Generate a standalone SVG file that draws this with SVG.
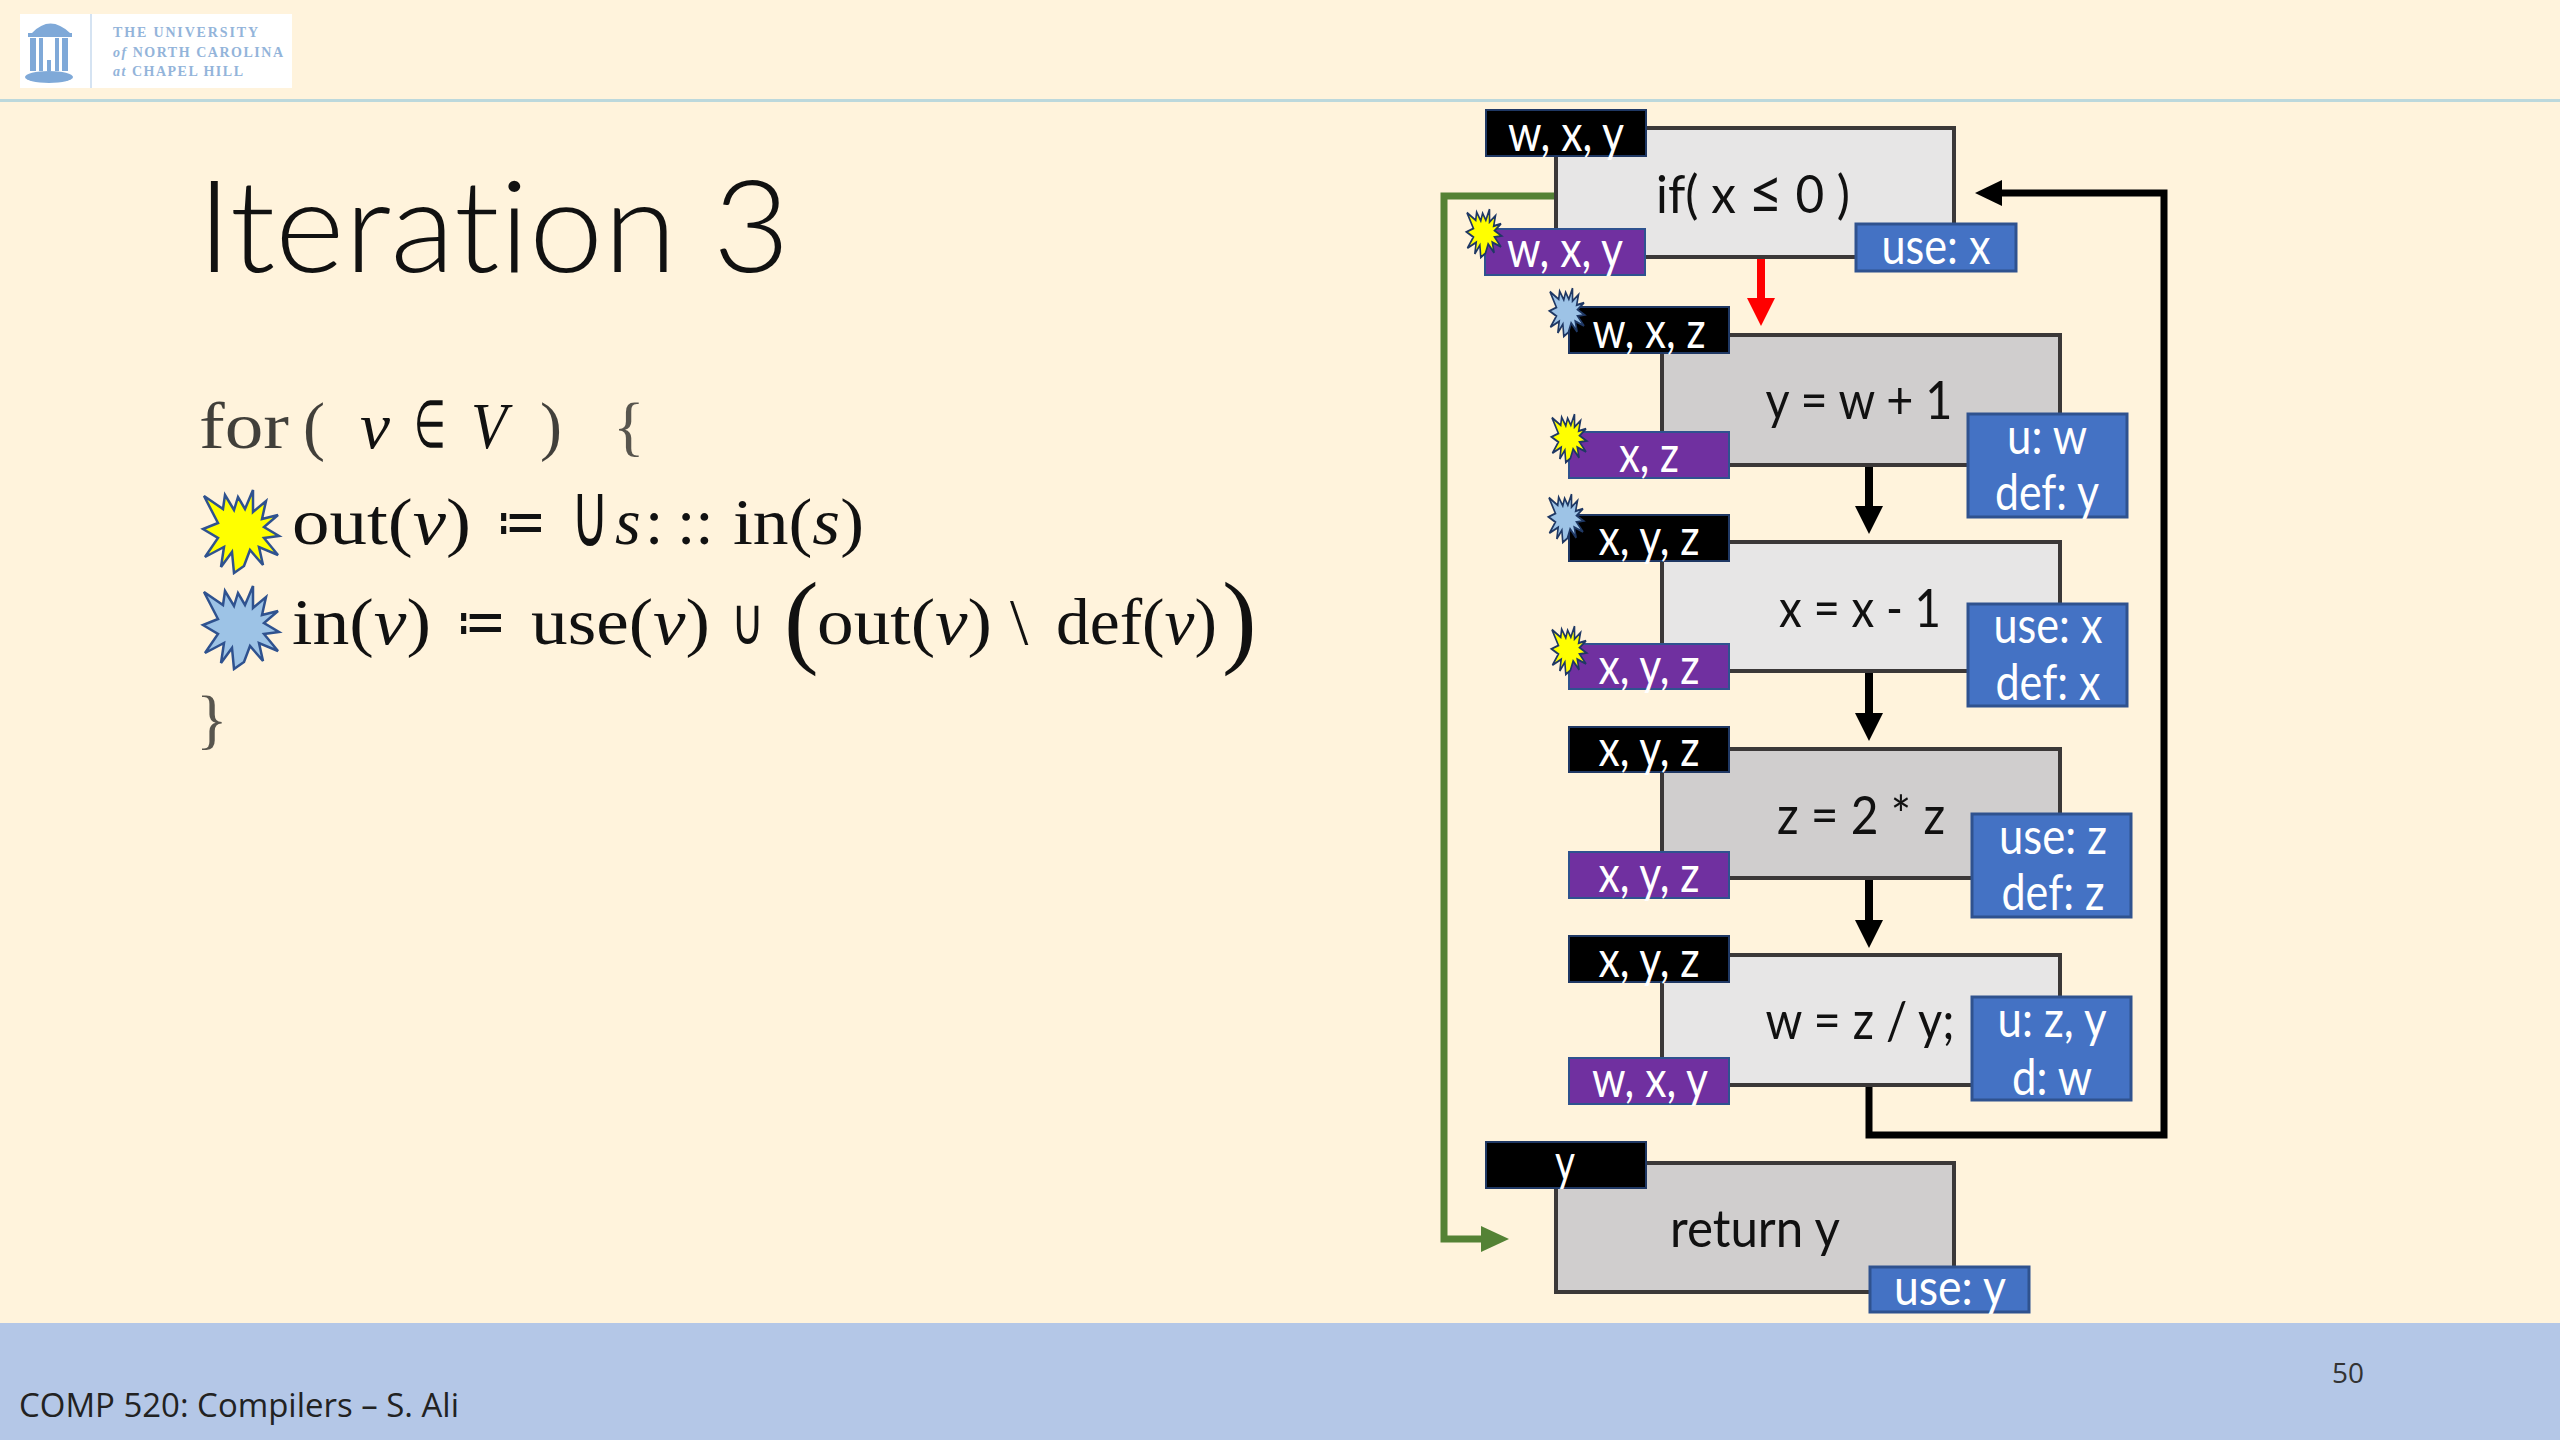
<svg xmlns="http://www.w3.org/2000/svg" width="2560" height="1440" viewBox="0 0 2560 1440">
<style>
.box{stroke:#3b3838;stroke-width:4}
.lt{fill:#e7e6e6}.dk{fill:#d0cece}
.in{fill:#000;stroke:#1f3864;stroke-width:2}
.out{fill:#7030a0;stroke:#2f528f;stroke-width:2}
.use{fill:#4472c4;stroke:#2f528f;stroke-width:3}
.lb{font-family:Lato,"Open Sans",sans-serif;font-size:50px;text-anchor:middle;font-variant-ligatures:none}
.w{fill:#fff;transform:translateY(2px)}.k{fill:#111;font-size:52px;transform:translateY(2px)}
.m{font-family:"Liberation Serif",serif;font-size:66px;fill:#111}
.big{font-size:104px}
.cup{font-size:90px}
.i{font-style:italic}
.logo{font-family:"Liberation Serif",serif;font-weight:bold;font-size:14px;fill:#93b4da}
.star{stroke:#2f528f;stroke-width:2.5;vector-effect:non-scaling-stroke;stroke-linejoin:miter}
.sm{stroke:#1f3864;stroke-width:3.5}
.y{fill:#ff0}.b{fill:#9dc3e6}
.cn{fill:none;stroke-linejoin:miter}
</style>
<defs>
<polygon id="burst" points="-37,-35 -18,-22 -16,-36 -7,-21 -3,-34 4,-22 12,-41 12,-19 25,-30 21,-12 37,-16 23,-4 38,5 23,7 37,24 18,16 22,34 9,19 3,35 -7,42 -9,21 -20,36 -17,16 -36,26 -23,7 -38,-2 -23,-8"/>
</defs>
<rect width="2560" height="1440" fill="#fff3dc"/>
<rect y="99" width="2560" height="3" fill="#bcd8dc"/>
<rect y="1323" width="2560" height="117" fill="#b4c7e7"/>

<g id="logo">
<rect x="20" y="14" width="272" height="74" fill="#fff"/>
<rect x="90" y="14" width="2" height="74" fill="#d5e3f2"/>
<g fill="#7fa9d8">
<path d="M32 33 Q50 14 70 33 Z"/>
<rect x="28" y="33" width="44" height="4"/>
<rect x="30" y="38" width="6" height="33"/>
<rect x="39" y="38" width="4" height="33"/>
<rect x="55" y="38" width="4" height="33"/>
<rect x="62" y="38" width="6" height="33"/>
<rect x="47" y="60" width="4" height="11"/>
<ellipse cx="49" cy="77" rx="24" ry="6"/>
</g>
<text class="logo" x="113" y="37" textLength="145" lengthAdjust="spacing">THE UNIVERSITY</text>
<text class="logo" x="113" y="57" textLength="170" lengthAdjust="spacing"><tspan font-style="italic">of</tspan> NORTH CAROLINA</text>
<text class="logo" x="113" y="76" textLength="130" lengthAdjust="spacing"><tspan font-style="italic">at</tspan> CHAPEL HILL</text>
</g>

<text x="197" y="272" font-family="Lato,'Open Sans',sans-serif" font-weight="300" font-size="128" fill="#111" textLength="593" lengthAdjust="spacingAndGlyphs" style="font-variant-ligatures:none">Iteration 3</text>

<g id="formula">
<text class="m" x="199" y="448" textLength="90" lengthAdjust="spacingAndGlyphs" fill-opacity=".8">for</text>
<text class="m" x="303" y="448" fill-opacity=".8">(</text>
<text class="m i" x="360" y="448" textLength="30" lengthAdjust="spacingAndGlyphs">v</text>
<text class="m" x="414" y="447" textLength="32" lengthAdjust="spacingAndGlyphs">∈</text>
<text class="m i" x="471" y="448" textLength="36" lengthAdjust="spacingAndGlyphs">V</text>
<text class="m" x="540" y="448" fill-opacity=".8">)</text>
<text class="m" x="613" y="448" fill-opacity=".7">{</text>

<use href="#burst" class="star y" x="241" y="531"/>
<text class="m" x="292" y="544" textLength="179" lengthAdjust="spacingAndGlyphs">out(<tspan class="i">v</tspan>)</text>
<text class="m" x="496" y="544" textLength="50" lengthAdjust="spacingAndGlyphs">≔</text>
<text class="m cup" x="571" y="546" textLength="38" lengthAdjust="spacingAndGlyphs">∪</text>
<text class="m i" x="615" y="544">s</text>
<text class="m" x="645" y="544">:</text>
<text class="m" x="677" y="544">::</text>
<text class="m" x="733" y="544" textLength="131" lengthAdjust="spacingAndGlyphs">in(<tspan class="i">s</tspan>)</text>

<use href="#burst" class="star b" x="241" y="627"/>
<text class="m" x="292" y="644" textLength="139" lengthAdjust="spacingAndGlyphs">in(<tspan class="i">v</tspan>)</text>
<text class="m" x="456" y="644" textLength="50" lengthAdjust="spacingAndGlyphs">≔</text>
<text class="m" x="531" y="644" textLength="179" lengthAdjust="spacingAndGlyphs">use(<tspan class="i">v</tspan>)</text>
<text class="m" x="731" y="644" textLength="33" lengthAdjust="spacingAndGlyphs">∪</text>
<text class="m big" x="784" y="654">(</text>
<text class="m" x="817" y="644" textLength="175" lengthAdjust="spacingAndGlyphs">out(<tspan class="i">v</tspan>)</text>
<text class="m" x="1010" y="644">\</text>
<text class="m" x="1056" y="644" textLength="161" lengthAdjust="spacingAndGlyphs">def(<tspan class="i">v</tspan>)</text>
<text class="m big" x="1222" y="654">)</text>
<text class="m" x="196" y="741" fill-opacity=".7">}</text>
</g>

<g id="connectors">
<path class="cn" d="M1761 258V300" stroke="#f00" stroke-width="8"/>
<polygon points="1747,298 1775,298 1761,326" fill="#f00"/>
<path class="cn" d="M1869 465V508" stroke="#000" stroke-width="8"/>
<polygon points="1855,506 1883,506 1869,534" fill="#000"/>
<path class="cn" d="M1869 672V715" stroke="#000" stroke-width="8"/>
<polygon points="1855,713 1883,713 1869,741" fill="#000"/>
<path class="cn" d="M1869 879V922" stroke="#000" stroke-width="8"/>
<polygon points="1855,920 1883,920 1869,948" fill="#000"/>
<path class="cn" d="M1869 1086V1135H2164V193H2000" stroke="#000" stroke-width="7"/>
<polygon points="2002,180 2002,206 1975,193" fill="#000"/>
<path class="cn" d="M1554 196H1444V1239H1483" stroke="#548235" stroke-width="7"/>
<polygon points="1481,1226 1481,1252 1509,1239" fill="#548235"/>
</g>

<g id="node1">
<rect class="box lt" x="1556" y="128" width="398" height="129"/>
<rect class="in" x="1486" y="110" width="160" height="46"/>
<rect class="out" x="1485" y="229" width="160" height="46"/>
<rect class="use" x="1856" y="224" width="160" height="47"/>
<text class="lb k" x="1753" y="211" textLength="194" lengthAdjust="spacingAndGlyphs">if( x <tspan font-size="62">≤</tspan> 0 )</text>
<text class="lb w" x="1566" y="149" textLength="116" lengthAdjust="spacingAndGlyphs">w, x, y</text>
<text class="lb w" x="1565" y="265" textLength="116" lengthAdjust="spacingAndGlyphs">w, x, y</text>
<text class="lb w" x="1936" y="262" textLength="109" lengthAdjust="spacingAndGlyphs">use: x</text>
<use href="#burst" class="star y sm" transform="translate(1484 233) scale(.46 .58)"/>
</g>

<g id="node2">
<rect class="box dk" x="1662" y="335" width="398" height="130"/>
<rect class="in" x="1569" y="307" width="160" height="46"/>
<rect class="out" x="1569" y="432" width="160" height="46"/>
<rect class="use" x="1968" y="414" width="159" height="103"/>
<text class="lb k" x="1859" y="417" textLength="187" lengthAdjust="spacingAndGlyphs">y = w + 1</text>
<text class="lb w" x="1649" y="346" textLength="113" lengthAdjust="spacingAndGlyphs">w, x, z</text>
<text class="lb w" x="1649" y="470" textLength="60" lengthAdjust="spacingAndGlyphs">x, z</text>
<text class="lb w" x="2047" y="452" textLength="80" lengthAdjust="spacingAndGlyphs">u: w</text>
<text class="lb w" x="2047" y="508" textLength="104" lengthAdjust="spacingAndGlyphs">def: y</text>
<use href="#burst" class="star b sm" transform="translate(1567 312) scale(.46 .58)"/>
<use href="#burst" class="star y sm" transform="translate(1569 438) scale(.46 .58)"/>
</g>

<g id="node3">
<rect class="box lt" x="1662" y="542" width="398" height="129"/>
<rect class="in" x="1569" y="515" width="160" height="46"/>
<rect class="out" x="1569" y="644" width="160" height="45"/>
<rect class="use" x="1968" y="604" width="159" height="102"/>
<text class="lb k" x="1860" y="625" textLength="162" lengthAdjust="spacingAndGlyphs">x = x - 1</text>
<text class="lb w" x="1649" y="553" textLength="101" lengthAdjust="spacingAndGlyphs">x, y, z</text>
<text class="lb w" x="1649" y="682" textLength="101" lengthAdjust="spacingAndGlyphs">x, y, z</text>
<text class="lb w" x="2048" y="641" textLength="109" lengthAdjust="spacingAndGlyphs">use: x</text>
<text class="lb w" x="2048" y="698" textLength="105" lengthAdjust="spacingAndGlyphs">def: x</text>
<use href="#burst" class="star b sm" transform="translate(1566 518) scale(.46 .58)"/>
<use href="#burst" class="star y sm" transform="translate(1569 650) scale(.46 .58)"/>
</g>

<g id="node4">
<rect class="box dk" x="1662" y="749" width="398" height="129"/>
<rect class="in" x="1569" y="727" width="160" height="45"/>
<rect class="out" x="1569" y="852" width="160" height="46"/>
<rect class="use" x="1972" y="814" width="159" height="103"/>
<text class="lb k" x="1861" y="832" textLength="168" lengthAdjust="spacingAndGlyphs">z = 2 * z</text>
<text class="lb w" x="1649" y="764" textLength="101" lengthAdjust="spacingAndGlyphs">x, y, z</text>
<text class="lb w" x="1649" y="890" textLength="101" lengthAdjust="spacingAndGlyphs">x, y, z</text>
<text class="lb w" x="2053" y="852" textLength="108" lengthAdjust="spacingAndGlyphs">use: z</text>
<text class="lb w" x="2053" y="908" textLength="103" lengthAdjust="spacingAndGlyphs">def: z</text>
</g>

<g id="node5">
<rect class="box lt" x="1662" y="955" width="398" height="130"/>
<rect class="in" x="1569" y="936" width="160" height="46"/>
<rect class="out" x="1569" y="1058" width="160" height="46"/>
<rect class="use" x="1972" y="997" width="159" height="103"/>
<text class="lb k" x="1860" y="1037" textLength="189" lengthAdjust="spacingAndGlyphs">w = z / y;</text>
<text class="lb w" x="1649" y="975" textLength="101" lengthAdjust="spacingAndGlyphs">x, y, z</text>
<text class="lb w" x="1650" y="1095" textLength="116" lengthAdjust="spacingAndGlyphs">w, x, y</text>
<text class="lb w" x="2052" y="1035" textLength="109" lengthAdjust="spacingAndGlyphs">u: z, y</text>
<text class="lb w" x="2052" y="1093" textLength="80" lengthAdjust="spacingAndGlyphs">d: w</text>
</g>

<g id="node6">
<rect class="box dk" x="1556" y="1163" width="398" height="129"/>
<rect class="in" x="1486" y="1142" width="160" height="46"/>
<rect class="use" x="1870" y="1267" width="159" height="45"/>
<text class="lb k" x="1755" y="1245" textLength="170" lengthAdjust="spacingAndGlyphs">return y</text>
<text class="lb w" x="1565" y="1178" textLength="20" lengthAdjust="spacingAndGlyphs">y</text>
<text class="lb w" x="1950" y="1303" textLength="112" lengthAdjust="spacingAndGlyphs">use: y</text>
</g>

<text x="19" y="1417" font-family="'Open Sans',sans-serif" font-size="32" fill="#222" textLength="440" lengthAdjust="spacingAndGlyphs">COMP 520: Compilers – S. Ali</text>
<text x="2332" y="1383" font-family="'Open Sans',sans-serif" font-size="27" fill="#333" textLength="32" lengthAdjust="spacingAndGlyphs">50</text>
</svg>
